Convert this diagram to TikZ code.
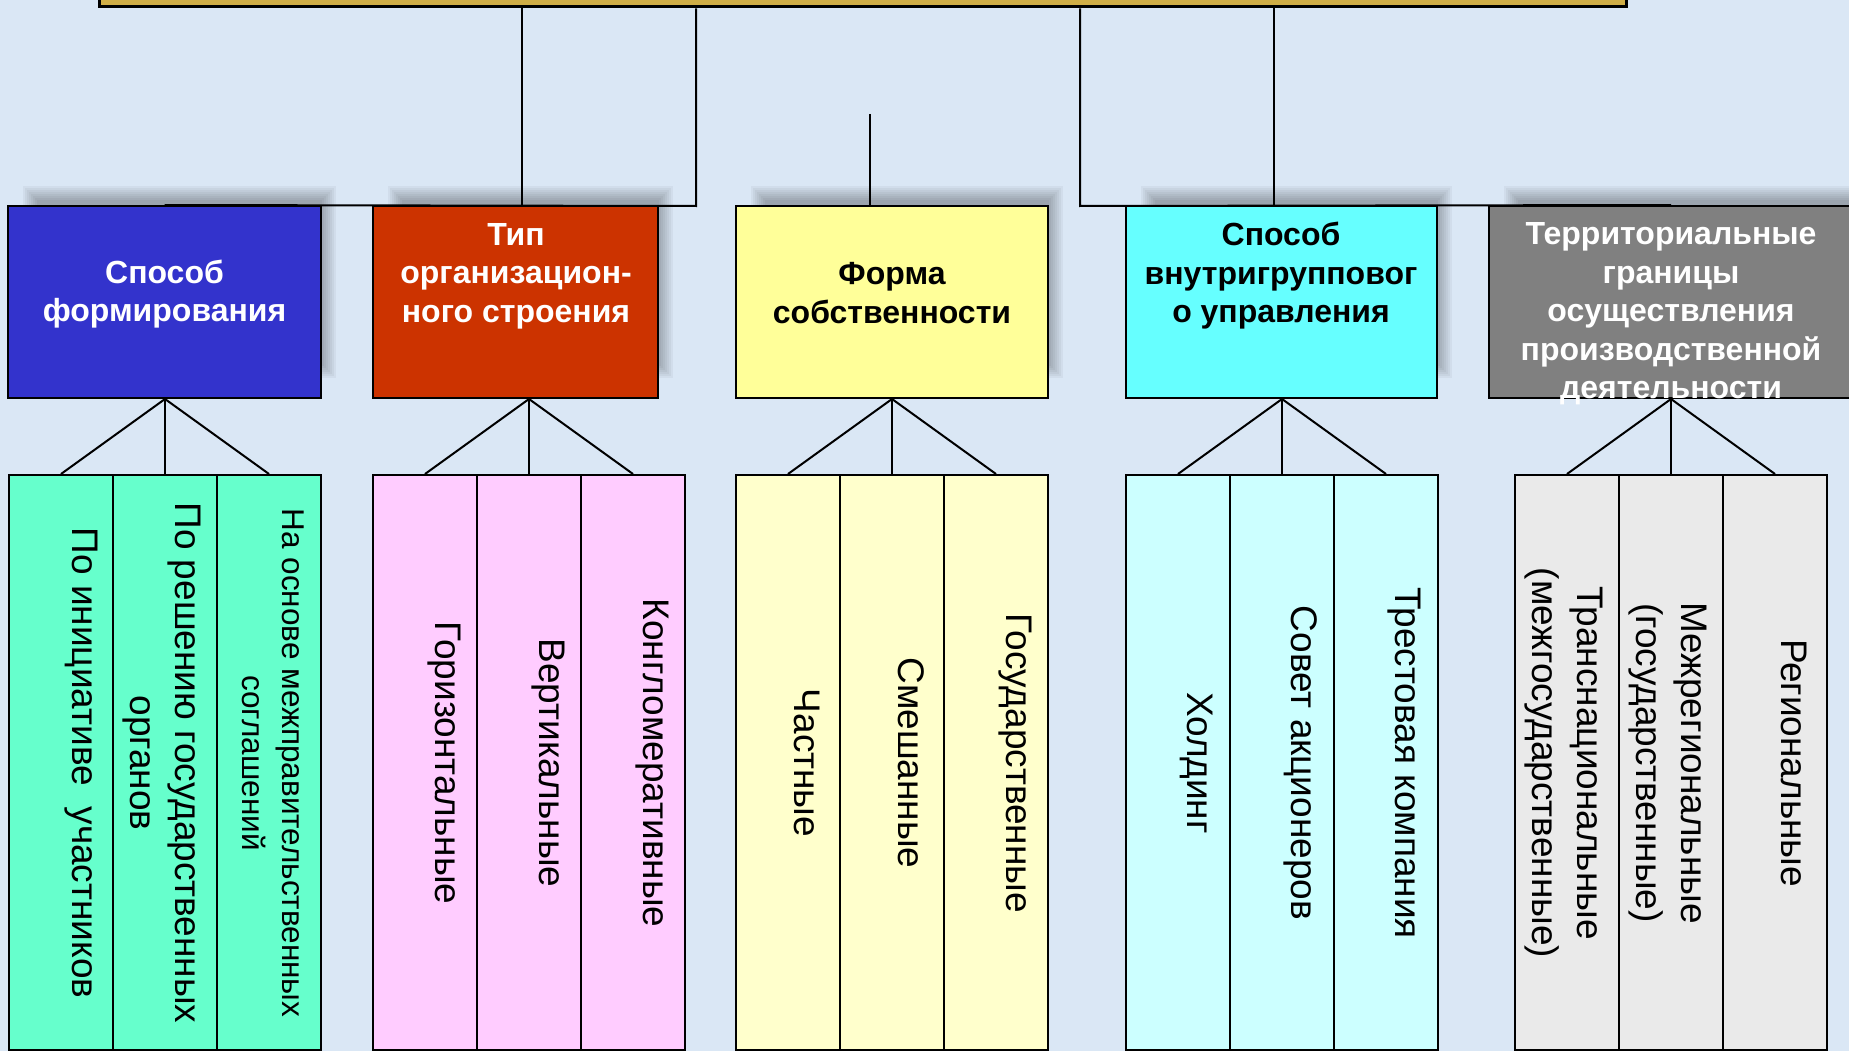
\documentclass[tikz,border=0pt]{standalone}
\usepackage{fontspec}
\setmainfont{Liberation Sans}

\definecolor{bgblue}{HTML}{DAE7F5}
\definecolor{gold}{HTML}{D0AE46}
\definecolor{hblue}{HTML}{3333CC}
\definecolor{hred}{HTML}{CC3300}
\definecolor{hyellow}{HTML}{FFFF99}
\definecolor{hcyan}{HTML}{66FFFF}
\definecolor{hgray}{HTML}{808080}
\definecolor{cgreen}{HTML}{66FFCC}
\definecolor{cpink}{HTML}{FFCCFF}
\definecolor{cyellow}{HTML}{FFFFCC}
\definecolor{ccyan}{HTML}{CCFFFF}
\definecolor{cgray}{HTML}{EAEAEA}

\tikzset{
  box/.style={draw=black, line width=2pt, rectangle, inner sep=0pt},
  head/.style={box, minimum height=192pt},
  col/.style={box, minimum width=104pt, minimum height=575pt},
  htext/.style={font=\fontsize{32}{38.5}\selectfont\bfseries, align=center, inner sep=0pt},
  ctext/.style={font=\fontsize{37}{45}\selectfont, align=center, inner sep=0pt, rotate=-90},
  link/.style={line width=2pt, draw=black},
}

% soft shadow behind a header box (image coordinates: x right, y down)
\newcommand{\softshadow}[4]{%
  \foreach \k in {0,...,7}{%
    \fill[black, opacity=0.04]
      ({#1+15+\k*2},{#2-20+\k*2}) rectangle ({#3+15-\k*2},{#4-20-\k*2});
  }%
}

\begin{document}
\begin{tikzpicture}[x=1pt, y=-1pt]
  \useasboundingbox (0,0) rectangle (1849,1051);
  \clip (0,0) rectangle (1849,1051);
  \fill[bgblue] (0,0) rectangle (1849,1051);

  % top bar
  \node[box, line width=3pt, fill=gold, minimum width=1527pt, minimum height=60pt] (root) at (862.5,-23) {};

  % shadows of the category boxes
  \softshadow{8}{206}{321}{398}
  \softshadow{373}{206}{658}{398}
  \softshadow{736}{206}{1048}{398}
  \softshadow{1126}{206}{1437}{398}
  \softshadow{1489}{206}{1853}{398}

  % category boxes
  \node[head, fill=hblue,   minimum width=313pt] (h1) at (164.5,302) {};
  \node[head, fill=hred,    minimum width=285pt] (h2) at (515.5,302) {};
  \node[head, fill=hyellow, minimum width=312pt] (h3) at (892,302) {};
  \node[head, fill=hcyan,   minimum width=311pt] (h4) at (1281.5,302) {};
  \node[head, fill=hgray,   minimum width=364pt] (h5) at (1671,302) {};

  % connectors from the top bar
  \coordinate (j1) at (696,206);
  \coordinate (j2) at (522,206);
  \coordinate (j3) at (870,114);
  \coordinate (j4) at (1080,206);
  \coordinate (j5) at (1274,206);
  \draw[link] (root.south -| j2) -- (j2);
  \draw[link] (root.south -| j1) -- (j1) -- (h1.north);
  \draw[link] (j3) -- (j3 |- h3.north);
  \draw[link] (root.south -| j4) -- (j4) -- (h5.north);
  \draw[link] (root.south -| j5) -- (j5);

  % category titles
  \node[htext, text=white] (t1) at (164.5,294) {Способ\\формирования};
  \node[htext, text=white] (t2) at (516,276) {Тип\\организацион-\\ного строения};
  \node[htext, text=black] (t3) at (892,293) {Форма\\собственности};
  \node[htext, text=black] (t4) at (1281,276) {Способ\\внутригрупповог\\о управления};
  \node[htext, text=white] (t5) at (1671,314) {Территориальные\\границы\\осуществления\\производственной\\деятельности};

  % columns
  \node[col, fill=cgreen] (c11) at (61,762.5) {};
  \node[col, fill=cgreen] (c12) at (165,762.5) {};
  \node[col, fill=cgreen] (c13) at (269,762.5) {};
  \node[col, fill=cpink] (c21) at (425,762.5) {};
  \node[col, fill=cpink] (c22) at (529,762.5) {};
  \node[col, fill=cpink] (c23) at (633,762.5) {};
  \node[col, fill=cyellow] (c31) at (788,762.5) {};
  \node[col, fill=cyellow] (c32) at (892,762.5) {};
  \node[col, fill=cyellow] (c33) at (996,762.5) {};
  \node[col, fill=ccyan] (c41) at (1178,762.5) {};
  \node[col, fill=ccyan] (c42) at (1282,762.5) {};
  \node[col, fill=ccyan] (c43) at (1386,762.5) {};
  \node[col, fill=cgray] (c51) at (1567,762.5) {};
  \node[col, fill=cgray] (c52) at (1671,762.5) {};
  \node[col, fill=cgray] (c53) at (1775,762.5) {};

  % fans from each category to its columns
  \foreach \g in {1,...,5}{
    \coordinate (a\g) at (h\g.south -| c\g2.north);
    \draw[link] (c\g1.north) -- (a\g) -- (c\g3.north);
    \draw[link] (a\g) -- (c\g2.north);
  }

  % column texts
  \node[ctext] (s11) at (81,763) {По инициативе\ \ участников};
  \node[ctext] (s12) at (162,763) {По решению государственных\\органов};
  \node[ctext, font=\fontsize{31.5}{40}\selectfont] (s13) at (273,763) {На основе межправительственных\\соглашений};
  \node[ctext] (s21) at (444,763) {Горизонтальные};
  \node[ctext] (s22) at (548,763) {Вертикальные};
  \node[ctext] (s23) at (652,763) {Конгломеративные};
  \node[ctext] (s31) at (807,763) {Частные};
  \node[ctext] (s32) at (911,763) {Смешанные};
  \node[ctext] (s33) at (1015,763) {Государственные};
  \node[ctext] (s41) at (1197,763) {Холдинг};
  \node[ctext] (s42) at (1301,763) {Совет акционеров};
  \node[ctext] (s43) at (1404,763) {Трестовая компания};
  \node[ctext] (s51) at (1564,763) {Транснациональные\\(межгосударственные)};
  \node[ctext] (s52) at (1668,763) {Межрегиональные\\(государственные)};
  \node[ctext] (s53) at (1794,763) {Региональные};
\end{tikzpicture}
\end{document}
